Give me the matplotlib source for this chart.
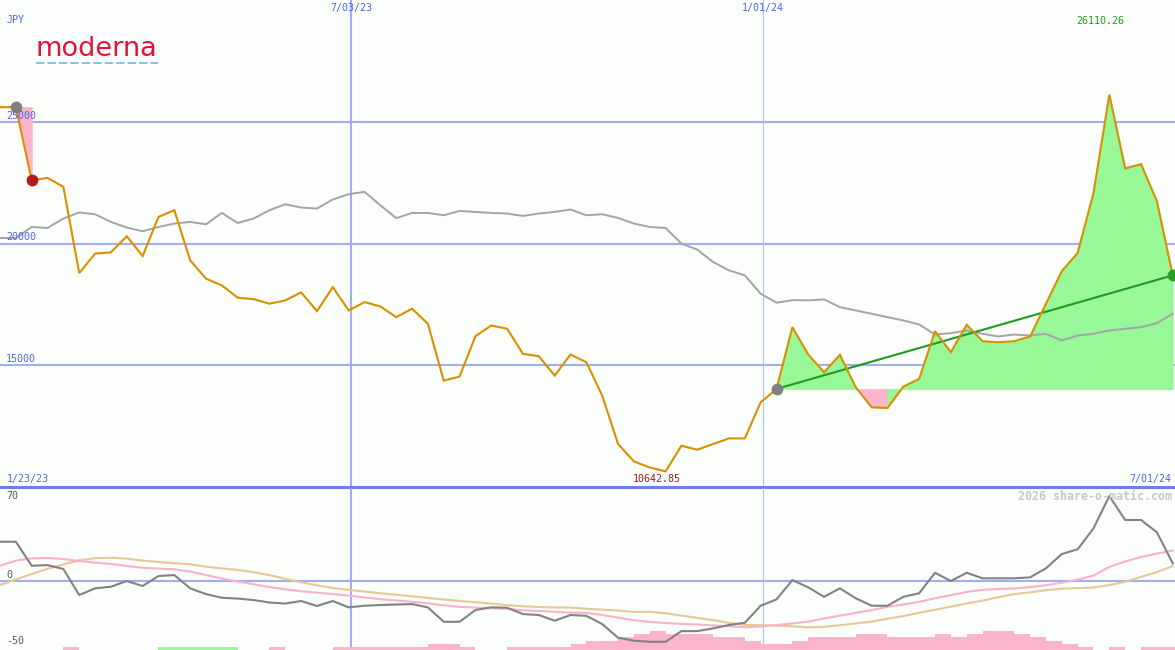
import numpy as np
import pandas as pd
import matplotlib
matplotlib.use("Agg")
import matplotlib.pyplot as plt
import matplotlib.dates as mdates
from matplotlib.lines import Line2D
from matplotlib.transforms import blended_transform_factory

# ---------------- data ----------------
dates = pd.date_range("2023-01-29", periods=75, freq="7D")

price = [25600, 25600, 22600, 22695, 22325, 18786, 19584, 19638, 20296, 19486,
         21091, 21366, 19309, 18556, 18280, 17774, 17716, 17527, 17663, 17992,
         17222, 18210, 17251, 17593, 17416, 16975, 17321, 16704, 14370, 14535,
         16193, 16634, 16498, 15469, 15370, 14576, 15440, 15123, 13753, 11765,
         11049, 10802, 10642.85, 11695, 11531, 11765, 11996, 11996, 13477, 14029,
         16564, 15440, 14712, 15428, 14095, 13272, 13247, 14123, 14440, 16399,
         15535, 16663, 15988, 15947, 15988, 16181, 17527, 18868, 19609, 22078,
         26110.26, 23082, 23259, 21737, 18691]

avg = [20226, 20226, 20679, 20638, 21025, 21272, 21202, 20885, 20654, 20502,
       20679, 20819, 20885, 20790, 21255, 20844, 21025, 21366, 21613, 21477,
       21436, 21807, 22025, 22119, 21572, 21040, 21255, 21255, 21160, 21337,
       21296, 21255, 21230, 21132, 21230, 21296, 21395, 21160, 21202, 21049,
       20819, 20679, 20638, 19996, 19749, 19239, 18897, 18691, 17938, 17568,
       17675, 17663, 17704, 17387, 17251, 17115, 16975, 16840, 16675, 16263,
       16317, 16428, 16292, 16181, 16263, 16222, 16292, 16016, 16222, 16292,
       16428, 16498, 16564, 16728, 17115]

osc = [28.9, 28.9, 11.1, 11.6, 8.7, -10.6, -5.6, -4.4, -0.2, -3.9,
       3.5, 4.2, -5.6, -9.9, -12.6, -13.2, -14.3, -16.1, -16.9, -15.0,
       -18.7, -15.0, -19.7, -18.5, -18.0, -17.6, -17.3, -19.7, -30.4, -30.4,
       -21.7, -19.7, -20.0, -24.7, -25.4, -29.6, -25.4, -26.0, -32.1, -42.2,
       -44.4, -45.2, -45.2, -37.3, -37.3, -35.3, -32.8, -31.1, -18.5, -13.8,
       0.5, -4.9, -11.9, -5.6, -13.0, -18.5, -18.5, -11.9, -9.3, 5.9,
       -0.2, 5.9, 1.8, 1.8, 1.8, 2.5, 9.2, 19.8, 23.3, 38.8,
       62.7, 45.0, 45.0, 35.9, 12.9]

sig_fast = [11.1, 14.9, 16.6, 16.9, 16.1, 14.6, 13.4, 12.4, 10.9, 9.6,
            9.0, 8.5, 6.8, 4.2, 1.6, -0.6, -2.6, -4.7, -6.3, -7.8,
            -8.8, -9.9, -11.0, -12.4, -13.7, -14.6, -15.6, -16.8, -18.2, -19.3,
            -19.9, -20.4, -20.8, -21.9, -22.4, -23.0, -23.6, -23.8, -25.4, -27.3,
            -29.3, -30.4, -31.4, -32.0, -32.4, -33.1, -33.7, -34.5, -33.9, -32.8,
            -31.6, -30.3, -27.9, -25.9, -23.8, -21.8, -19.3, -17.6, -15.6, -13.0,
            -10.7, -8.3, -6.7, -6.1, -5.7, -4.7, -3.3, -1.5, 0.9, 3.8,
            10.3, 14.3, 17.6, 20.1, 22.4]

sig_slow = [-3.1, 0.9, 5.0, 8.9, 12.1, 15.1, 16.7, 17.0, 16.4, 14.9,
            13.9, 13.0, 12.2, 10.4, 9.1, 8.0, 6.3, 4.2, 1.4, -1.2,
            -3.4, -5.4, -6.7, -8.0, -9.3, -10.4, -11.5, -12.7, -13.9, -15.0,
            -15.9, -16.9, -18.1, -18.9, -19.4, -19.8, -19.9, -20.7, -21.4, -22.1,
            -23.0, -23.0, -24.1, -25.8, -27.5, -29.1, -31.3, -32.7, -32.9, -33.2,
            -33.8, -34.5, -34.1, -32.9, -31.6, -30.3, -28.1, -26.2, -23.7, -21.5,
            -19.2, -16.8, -14.7, -12.2, -9.9, -8.6, -7.0, -5.9, -5.5, -5.0,
            -3.2, -0.7, 2.9, 6.4, 10.8]

hist = [0, 0, 0, 0, -2.3, 0, 0, 0, 0, 0,
        2.3, 2.3, 2.3, 2.3, 2.3, 0, 0, -2.3, 0, 0,
        0, -2.3, -2.3, -2.3, -2.3, -2.3, -2.3, -4.7, -4.7, -2.3,
        0, 0, -2.3, -2.3, -2.3, -2.3, -4.7, -7.0, -7.0, -9.3,
        -11.7, -14.0, -11.7, -11.7, -11.7, -9.3, -9.3, -7.0, -4.7, -4.7,
        -7.0, -9.3, -9.3, -9.3, -11.7, -11.7, -9.3, -9.3, -9.3, -11.7,
        -9.3, -11.7, -14.0, -14.0, -11.7, -9.3, -7.0, -4.7, -2.3, 0,
        -2.3, 0, -2.3, -2.3, -2.3]

# performance periods (start, end)
periods = [("2023-02-05", "2023-02-12"), ("2024-01-07", "2024-06-30")]
vline_dates = ["2023-07-03", "2024-01-01"]
vline_labels = ["7/03/23", "1/01/24"]
y_ticks = [15000, 20000, 25000]
osc_labels = ["70", "0", "-50"]

# ---------------- style ----------------
W, H = 1175, 650
bg = "#fbfefb"
grid_c = "#a4acf4"
txt_blue = "#5064f0"
orange = "#d99000"
pink = "#fbb5ca"
green_fill = "#98f898"
mono = "DejaVu Sans Mono"

x = mdates.date2num(dates)
xlim = (mdates.date2num(pd.Timestamp("2023-01-29")), mdates.date2num(pd.Timestamp("2024-07-01")))

fig = plt.figure(figsize=(W / 100, H / 100), dpi=100, facecolor=bg)
ax = fig.add_axes([0, 163 / H, 1, 487 / H])
ax2 = fig.add_axes([0, 0, 1, 162 / H])
for a in (ax, ax2):
    a.set_facecolor(bg)
    a.set_axis_off()
    a.set_xlim(*xlim)

ax.set_ylim(10000, 30000)
y2lo, y2hi = -51.3, 68.7
ax2.set_ylim(y2lo, y2hi)

# grid
for v in y_ticks:
    ax.axhline(v, color=grid_c, lw=1.5, zorder=1)
ax.axhline(10000, color="#6e7ef0", lw=2.2, zorder=8, clip_on=False)
ax2.axhline(0, color=grid_c, lw=1.5, zorder=1)
vx = [mdates.date2num(pd.Timestamp(d)) for d in vline_dates]
for k, xv in enumerate(vx):
    lw = 1.5 if k == 0 else 0.8
    col = grid_c if k == 0 else "#b4bcf2"
    ax.axvline(xv, color=col, lw=lw, zorder=1)
    ax2.axvline(xv, color=col, lw=lw, zorder=1)

# ---------------- main panel ----------------
p = np.array(price, dtype=float)
ax.plot(x, avg, color="#a4a4a4", lw=1.4, zorder=3)

for k, (s, e) in enumerate(periods):
    i0 = dates.get_loc(pd.Timestamp(s))
    i1 = dates.get_loc(pd.Timestamp(e))
    base = p[i0]
    for i in range(i0, i1):
        col = green_fill if p[i + 1] >= base else pink
        ax.fill_between(x[i:i + 2], p[i:i + 2], base, facecolor=col, edgecolor=col,
                        lw=0.6, zorder=2)
    up = p[i1] >= base
    if i1 - i0 > 1:
        ax.plot([x[i0], x[i1]], [base, p[i1]], color="#209a20", lw=1.5, zorder=4)
    ax.plot(x[i0], base, "o", color="#808080", ms=8.5, zorder=6, mec="none")
    ax.plot(x[i1], p[i1], "o", color=("#2a9a2a" if up else "#b01c1c"), ms=8.5, zorder=6, mec="none")

ax.plot(x, p, color=orange, lw=1.5, zorder=5, solid_joinstyle="miter")

# y labels
tr_yl = blended_transform_factory(ax.transAxes, ax.transData)
for v in y_ticks:
    ax.annotate(f"{v}", (0, v), xycoords=tr_yl,
                xytext=(6, 6), textcoords="offset pixels", ha="left", va="center",
                fontsize=7.2, family=mono, color=txt_blue, zorder=9)

trans_top = blended_transform_factory(ax.transData, ax.transAxes)
for xv, lab in zip(vx, vline_labels):
    ax.text(xv, 1 - 8 / 487, lab, transform=trans_top, ha="center", va="center",
            fontsize=7.2, family=mono, color=txt_blue)

fig.text(7 / W, 1 - 20 / H, "JPY", ha="left", va="center", fontsize=7.2, family=mono, color=txt_blue)
ax.text(7 / W, 8 / 487, "1/23/23", transform=ax.transAxes, ha="left", va="center",
        fontsize=7.2, family=mono, color=txt_blue)
ax.text(1171 / W, 8 / 487, "7/01/24", transform=ax.transAxes, ha="right", va="center",
        fontsize=7.2, family=mono, color=txt_blue)

imax = int(np.argmax(p))
imin = int(np.argmin(p))
ax.annotate(f"{p[imax]:.2f}", (x[imax], 1 - 21 / 487), xycoords=trans_top, xytext=(-9, 0),
            textcoords="offset pixels", ha="center", va="center", fontsize=7.2, family=mono,
            color="#209a20")
ax.annotate(f"{p[imin]:.2f}", (x[imin], 8 / 487), xycoords=trans_top, xytext=(-9, 0),
            textcoords="offset pixels", ha="center", va="center", fontsize=7.2, family=mono,
            color="#a01818")

# logo
fig.text(35 / W, 1 - 56 / H, "moderna", family="DejaVu Sans", fontsize=19.5, weight="normal",
         color="#e0143a", ha="left", va="baseline")
fig.add_artist(Line2D([36 / W, 158 / W], [1 - 63 / H] * 2, transform=fig.transFigure,
                      color="#62b4ea", lw=1.1, dashes=(5.5, 2)))

# ---------------- oscillator panel ----------------
h = np.array(hist)
colors = [green_fill if v > 0 else pink for v in h]
ax2.bar(x, np.abs(h), width=7, align="edge", bottom=y2lo, color=colors, lw=0, zorder=1.5)
ax2.plot(x, sig_slow, color="#e4c996", lw=1.5, zorder=3)
ax2.plot(x, sig_fast, color="#f9b2c8", lw=1.5, zorder=3)
ax2.plot(x, osc, color="#828282", lw=1.5, zorder=4)

for lab, yy in zip(osc_labels, [496, 575, 641]):
    fig.text(6 / W, 1 - yy / H, lab, ha="left", va="center", fontsize=7.2, family=mono, color="#5a5a5a")
fig.text(1172 / W, 1 - 496 / H, "2026 share-o-matic.com", ha="right", va="center", fontsize=8.4,
         family=mono, weight="bold", color="#c8c8c8")

fig.savefig("out.png", dpi=100, facecolor=bg)
